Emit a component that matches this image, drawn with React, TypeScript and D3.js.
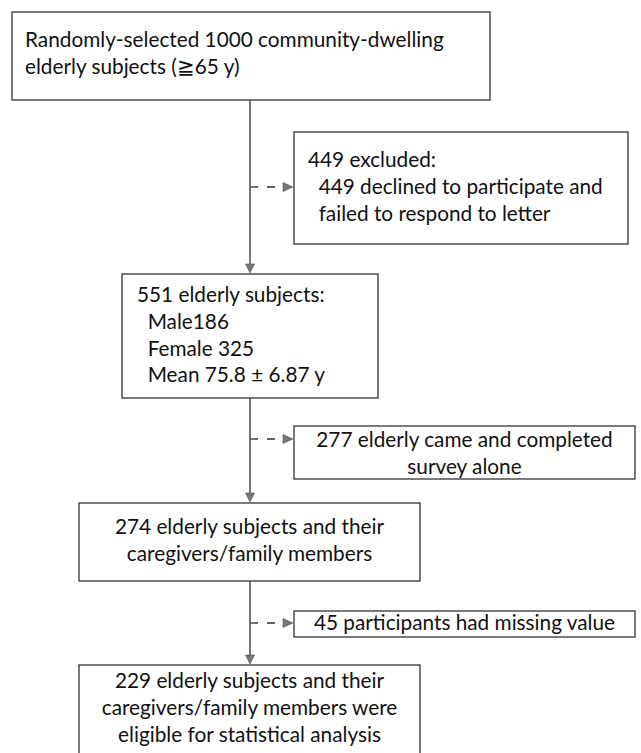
import React, { useMemo } from 'react';
import * as d3 from 'd3';

// box texts, top to bottom
const mainBoxes: string[][] = [
  ['Randomly-selected 1000 community-dwelling', 'elderly subjects (≧65 y)'],
  ['551 elderly subjects:', '  Male186', '  Female 325', '  Mean 75.8 ± 6.87 y'],
  ['274 elderly subjects and their', 'caregivers/family members'],
  ['229 elderly subjects and their', 'caregivers/family members were', 'eligible for statistical analysis'],
];
const sideBoxes: string[][] = [
  ['449 excluded:', '  449 declined to participate and', '  failed to respond to letter'],
  ['277 elderly came and completed', 'survey alone'],
  ['45 participants had missing value'],
];

// layout in pixels
const spineX = 250;
const mainLayout = [
  { x0: 12, x1: 490, y0: 12, y1: 100, align: 'start', tx: 25, base: 47 },
  { x0: 122, x1: 378, y0: 274, y1: 398, align: 'start', tx: 137, base: 302 },
  { x0: 79, x1: 420, y0: 503, y1: 581, align: 'middle', tx: 0, base: 534 },
  { x0: 79, x1: 420, y0: 665, y1: 765, align: 'middle', tx: 0, base: 688 },
];
const sideLayout = [
  { x0: 294, x1: 628, y0: 132, y1: 244, align: 'start', tx: 308, base: 167, arrowY: 187 },
  { x0: 294, x1: 635, y0: 426, y1: 479, align: 'middle', tx: 0, base: 447, arrowY: 439 },
  { x0: 294, x1: 635, y0: 611, y1: 637, align: 'middle', tx: 0, base: 630, arrowY: 623 },
];
const lineH = 26.8;
const refLineWidth = 419; // width of the first title line in the reference
const fontStack = 'Lato, "Open Sans", sans-serif';
const ink = '#333';

function Box({ lines, l, fs }: { lines: string[]; l: any; fs: number }) {
  const y = d3.scaleLinear().domain([0, 1]).range([l.base, l.base + lineH]);
  const tx = l.align === 'middle' ? (l.x0 + l.x1) / 2 : l.tx;
  return (
    <g>
      <rect x={l.x0} y={l.y0} width={l.x1 - l.x0} height={l.y1 - l.y0} fill="white" stroke={ink} strokeWidth={1.3} />
      {lines.map((s, i) => (
        <text key={i} x={tx} y={y(i)} textAnchor={l.align} fontSize={fs} fontFamily={fontStack} fill="#111" style={{ whiteSpace: 'pre' }}>
          {s}
        </text>
      ))}
    </g>
  );
}

export default function App() {
  const W = 641, H = 753;

  // pick the font size so that the first title line spans the reference width
  const fs = useMemo(() => {
    const ctx = document.createElement('canvas').getContext('2d');
    if (!ctx) return 20.5;
    ctx.font = `20px ${fontStack}`;
    const len = ctx.measureText(mainBoxes[0][0]).width;
    return len > 0 ? (20 * refLineWidth) / len : 20.5;
  }, []);

  return (
    <svg width={W} height={H} style={{ position: 'absolute', left: 0, top: 0, background: 'white' }}>
      {/* solid vertical connectors */}
      {mainLayout.slice(0, -1).map((a, i) => {
        const y1 = a.y1;
        const y2 = mainLayout[i + 1].y0;
        return (
          <g key={'v' + i}>
            <line x1={spineX} x2={spineX} y1={y1} y2={y2 - 6} stroke={ink} strokeWidth={1.3} />
            <path d={`M${spineX - 4.5},${y2 - 10} L${spineX + 4.5},${y2 - 10} L${spineX},${y2 - 1} Z`} fill="#777" stroke="#555" strokeWidth={0.6} />
          </g>
        );
      })}
      {/* dashed exclusion arrows */}
      {sideLayout.map((l, i) => (
        <g key={'h' + i}>
          <line x1={spineX} x2={l.x0 - 11} y1={l.arrowY} y2={l.arrowY} stroke={ink} strokeWidth={1.3} strokeDasharray="8,9" />
          <path d={`M${l.x0 - 11},${l.arrowY - 4.5} L${l.x0 - 11},${l.arrowY + 4.5} L${l.x0 - 1},${l.arrowY} Z`} fill="#777" stroke="#555" strokeWidth={0.6} />
        </g>
      ))}
      {mainBoxes.map((lines, i) => <Box key={'m' + i} lines={lines} l={mainLayout[i]} fs={fs} />)}
      {sideBoxes.map((lines, i) => <Box key={'s' + i} lines={lines} l={sideLayout[i]} fs={fs} />)}
    </svg>
  );
}
